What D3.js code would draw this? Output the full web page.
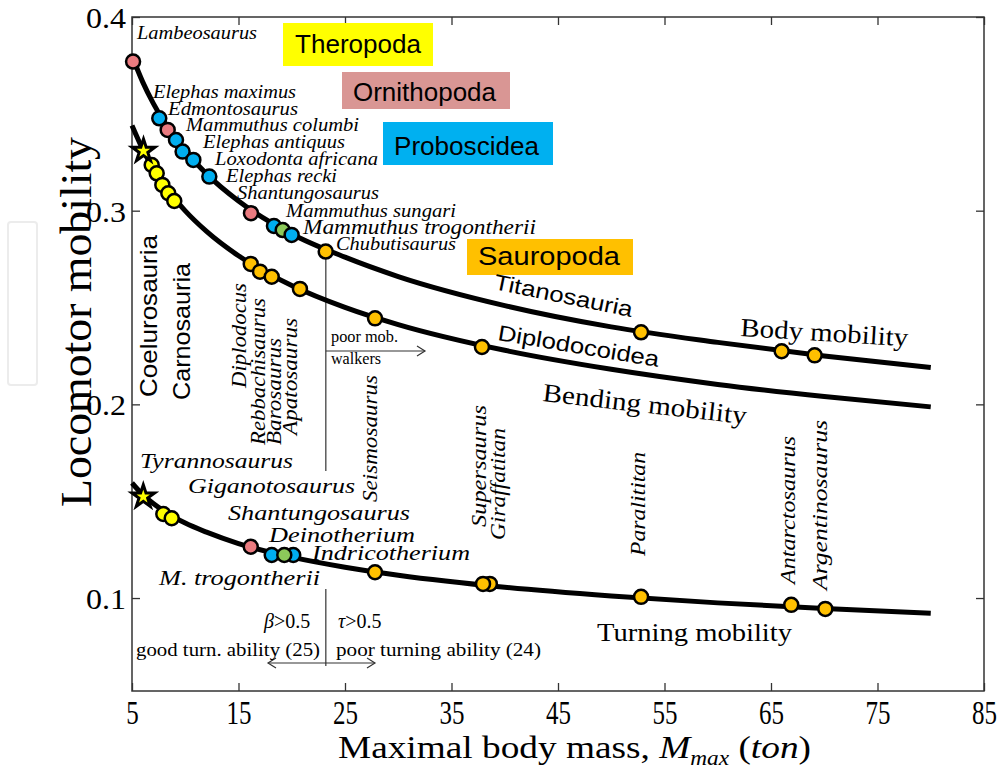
<!DOCTYPE html>
<html><head><meta charset="utf-8">
<script src="https://cdn.jsdelivr.net/npm/d3@7"></script>
<style>body{margin:0;background:#fff} svg{display:block}</style>
</head><body><svg id="chart" width="1005" height="774"></svg>
<script>
// ---------------- data ----------------
const xTicks = [5, 15, 25, 35, 45, 55, 65, 75, 85];
const yTicks = [0.1, 0.2, 0.3, 0.4];
const yTickLabels = ["0.1", "0.2", "0.3", "0.4"];

// fitted curves (mass in ton, mobility)
const curveMass = [5, 6, 7, 8, 10, 12, 15, 20, 25, 30, 40, 50, 60, 70, 80];
const bodyCurve = [0.380, 0.3665, 0.3554, 0.346, 0.331, 0.319, 0.305, 0.288, 0.276, 0.266, 0.251, 0.240, 0.232, 0.225, 0.219];
const bendCurve = [0.344, 0.3318, 0.3218, 0.3134, 0.2999, 0.2893, 0.2767, 0.2614, 0.2501, 0.2412, 0.2279, 0.2181, 0.2103, 0.2040, 0.1987];
const turnCurve = [0.1594, 0.1534, 0.1488, 0.1449, 0.1387, 0.1340, 0.1281, 0.1211, 0.1159, 0.1118, 0.1056, 0.1011, 0.0975, 0.0946, 0.0922];

// body mobility points
const bodyMass  = [5.1, 7.56, 8.35, 9.13, 9.75, 10.76, 12.26, 16.17, 18.33, 19.15, 19.99, 23.19, 52.8, 66.0, 69.1];
const bodyMob   = [0.377, 0.3477, 0.3417, 0.3365, 0.3305, 0.3262, 0.3176, 0.2987, 0.2921, 0.2900, 0.2875, 0.2789, 0.2372, 0.2274, 0.2253];
const bodyGroup = ["Ornithopoda", "Proboscidea", "Ornithopoda", "Proboscidea", "Proboscidea", "Proboscidea", "Proboscidea",
                   "Ornithopoda", "Proboscidea", "Mammuthus", "Proboscidea", "Sauropoda", "Sauropoda", "Sauropoda", "Sauropoda"];

// bending mobility points
const bendMass  = [6.85, 7.32, 7.85, 8.41, 8.97, 16.15, 17.02, 18.12, 20.77, 27.82, 37.86];
const bendMob   = [0.3236, 0.3193, 0.3133, 0.309, 0.305, 0.2725, 0.2685, 0.2659, 0.2596, 0.2444, 0.2296];
const bendGroup = ["Theropoda", "Theropoda", "Theropoda", "Theropoda", "Theropoda",
                   "Sauropoda", "Sauropoda", "Sauropoda", "Sauropoda", "Sauropoda", "Sauropoda"];

// turning mobility points
const turnMass  = [7.94, 8.73, 16.15, 18.12, 20.14, 19.30, 27.82, 38.6, 37.96, 52.8, 66.9, 70.1];
const turnMob   = [0.1434, 0.1412, 0.1265, 0.1222, 0.1222, 0.1222, 0.1133, 0.1073, 0.1073, 0.1006, 0.0965, 0.0944];
const turnGroup = ["Theropoda", "Theropoda", "Ornithopoda", "Proboscidea", "Proboscidea", "Mammuthus",
                   "Sauropoda", "Sauropoda", "Sauropoda", "Sauropoda", "Sauropoda", "Sauropoda"];

// star markers (Tyrannosaurus on bending and turning curves)
const starMass = [6.08, 6.06];
const starMob  = [0.3308, 0.1523];

// thresholds for annotation lines
const walkerMass = 23.2;

const groups = ["Theropoda", "Ornithopoda", "Proboscidea", "Sauropoda", "Mammuthus"];
const groupFill = ["#ffff00", "#ea7b80", "#00aeef", "#ffc000", "#8cc95a"];
const legendNames = ["Theropoda", "Ornithopoda", "Proboscidea", "Sauropoda"];
const legendFill = ["#ffff00", "#d99694", "#00b0f0", "#ffc000"];

// ---------------- layout ----------------
const svg = d3.select("#chart");
const serif = "'Liberation Serif','Times New Roman',serif";
const sans = "'Liberation Sans',Arial,sans-serif";
const x = d3.scaleLinear().domain([5, 85]).range([132, 984]);
const y = d3.scaleLinear().domain([0.052, 0.4]).range([691, 17]);
const color = d3.scaleOrdinal().domain(groups).range(groupFill);

// faint stray box at left
svg.append("rect").attr("x", 8).attr("y", 222).attr("width", 29).attr("height", 163)
  .attr("rx", 3).attr("fill", "none").attr("stroke", "#ececec").attr("stroke-width", 2);

// axes with inward ticks
const axB = svg.append("g").attr("transform", `translate(0,${y.range()[0]})`)
  .call(d3.axisBottom(x).tickValues(xTicks).tickSize(-8).tickSizeOuter(0).tickFormat(d3.format("d")));
const axT = svg.append("g").attr("transform", `translate(0,${y.range()[1]})`)
  .call(d3.axisTop(x).tickValues(xTicks).tickSize(-8).tickSizeOuter(0).tickFormat(""));
const axL = svg.append("g").attr("transform", `translate(${x.range()[0]},0)`)
  .call(d3.axisLeft(y).tickValues(yTicks).tickSize(-8).tickSizeOuter(0).tickFormat((d, i) => yTickLabels[i]));
const axR = svg.append("g").attr("transform", `translate(${x.range()[1]},0)`)
  .call(d3.axisRight(y).tickValues(yTicks).tickSize(-8).tickSizeOuter(0).tickFormat(""));
[axB, axT, axL, axR].forEach(a => {
  a.select(".domain").remove();
  a.selectAll("line").attr("stroke", "#333").attr("stroke-width", 1.3);
});
axB.selectAll("text").attr("font-family", serif).attr("font-size", 34).attr("fill", "#000")
  .attr("dy", null).attr("y", 33)
  .attr("textLength", d => String(d).length * 12.5).attr("lengthAdjust", "spacingAndGlyphs");
axL.selectAll("text").attr("font-family", serif).attr("font-size", 29).attr("fill", "#000")
  .attr("x", -6).attr("dy", "0.36em")
  .attr("textLength", 40).attr("lengthAdjust", "spacingAndGlyphs");

// frame
svg.append("rect").attr("x", x.range()[0]).attr("y", y.range()[1])
  .attr("width", x.range()[1] - x.range()[0]).attr("height", y.range()[0] - y.range()[1])
  .attr("fill", "none").attr("stroke", "#333").attr("stroke-width", 1.5);

// annotation lines (behind curves)
const ann = svg.append("g").attr("stroke", "#333").attr("stroke-width", 1.2).attr("fill", "none");
const xw = x(walkerMass);
ann.append("line").attr("x1", xw).attr("x2", xw).attr("y1", y(bodyMob[11])).attr("y2", 471);
ann.append("line").attr("x1", xw).attr("x2", 425).attr("y1", 351).attr("y2", 351);
ann.append("path").attr("d", "M417,346 L425,351 L417,356");
ann.append("line").attr("x1", xw).attr("x2", xw).attr("y1", 589).attr("y2", 666);
ann.append("line").attr("x1", 268).attr("x2", 375).attr("y1", 663).attr("y2", 663);
ann.append("path").attr("d", "M276,658 L268,663 L276,668");
ann.append("path").attr("d", "M367,658 L375,663 L367,668");

// curves
const line = d3.line().x(d => x(d[0])).y(d => y(d[1])).curve(d3.curveMonotoneX);
[bodyCurve, bendCurve, turnCurve].forEach(c => {
  svg.append("path").datum(curveMass.map((m, i) => [m, c[i]]))
    .attr("d", line).attr("fill", "none").attr("stroke", "#000")
    .attr("stroke-width", 5).attr("stroke-linecap", "butt");
});

// points
function drawPoints(mass, mob, grp) {
  svg.append("g").selectAll("circle").data(mass.map((m, i) => ({ m, v: mob[i], g: grp[i] })))
    .join("circle").attr("cx", d => x(d.m)).attr("cy", d => y(d.v)).attr("r", 7)
    .attr("fill", d => color(d.g)).attr("stroke", "#000").attr("stroke-width", 2.5);
}
drawPoints(bodyMass, bodyMob, bodyGroup);
drawPoints(bendMass, bendMob, bendGroup);
drawPoints(turnMass, turnMob, turnGroup);

svg.append("g").selectAll("path").data(starMass.map((m, i) => [m, starMob[i]])).join("path")
  .attr("transform", d => `translate(${x(d[0])},${y(d[1])})`)
  .attr("d", d3.symbol().type(d3.symbolStar).size(160))
  .attr("fill", "#ffff00").attr("stroke", "#000").attr("stroke-width", 3).attr("stroke-linejoin", "miter");

// legend boxes
const legendBoxes = [
  { x0: 283, y0: 23, x1: 433, y1: 66, tx: 295, ty: 53, len: 126 },
  { x0: 342, y0: 72, x1: 510, y1: 109, tx: 353, ty: 101, len: 143 },
  { x0: 383, y0: 122, x1: 553, y1: 165, tx: 394, ty: 155, len: 145 },
  { x0: 467, y0: 239, x1: 633, y1: 275, tx: 478, ty: 265, len: 142 }
];
legendBoxes.forEach((b, i) => {
  svg.append("rect").attr("x", b.x0).attr("y", b.y0).attr("width", b.x1 - b.x0).attr("height", b.y1 - b.y0)
    .attr("fill", legendFill[i]);
  svg.append("text").attr("x", b.tx).attr("y", b.ty).attr("font-family", sans).attr("font-size", 26)
    .attr("textLength", b.len).attr("lengthAdjust", "spacingAndGlyphs").text(legendNames[i]);
});

// text helper
function label(t) {
  const el = svg.append("text")
    .attr("transform", `translate(${t.x},${t.y}) rotate(${t.rot || 0})`)
    .attr("font-family", t.sans ? sans : serif)
    .attr("font-style", t.it ? "italic" : "normal")
    .attr("font-size", t.size).attr("fill", "#000").text(t.text);
  if (t.len) el.attr("textLength", t.len).attr("lengthAdjust", "spacingAndGlyphs");
  return el;
}

const speciesLabels = [
  { text: "Lambeosaurus", x: 137, y: 39, size: 18, len: 120 },
  { text: "Elephas maximus", x: 153, y: 98, size: 18, len: 143 },
  { text: "Edmontosaurus", x: 168, y: 115, size: 18, len: 130 },
  { text: "Mammuthus columbi", x: 186, y: 131, size: 18, len: 173 },
  { text: "Elephas antiquus", x: 203, y: 148, size: 18, len: 142 },
  { text: "Loxodonta africana", x: 215, y: 165, size: 18, len: 163 },
  { text: "Elephas recki", x: 226, y: 182, size: 18, len: 111 },
  { text: "Shantungosaurus", x: 237, y: 199, size: 18, len: 142 },
  { text: "Mammuthus sungari", x: 286, y: 217, size: 18, len: 170 },
  { text: "Mammuthus trogontherii", x: 303, y: 234, size: 22, len: 233 },
  { text: "Chubutisaurus", x: 336, y: 250, size: 18, len: 120 },
  { text: "Tyrannosaurus", x: 140, y: 468, size: 22, len: 153 },
  { text: "Giganotosaurus", x: 188, y: 493, size: 22, len: 167 },
  { text: "Shantungosaurus", x: 228, y: 520, size: 22, len: 182 },
  { text: "Deinotherium", x: 269, y: 542, size: 22, len: 146 },
  { text: "Indricotherium", x: 312, y: 560, size: 22, len: 158 },
  { text: "M. trogontherii", x: 159, y: 585, size: 22, len: 161 },
  { text: "Diplodocus", x: 246, y: 388, size: 22, len: 105, rot: -90 },
  { text: "Rebbachisaurus", x: 265, y: 445, size: 22, len: 147, rot: -90 },
  { text: "Barosaurus", x: 281, y: 445, size: 22, len: 107, rot: -90 },
  { text: "Apatosaurus", x: 297, y: 435, size: 22, len: 117, rot: -90 },
  { text: "Seismosaurus", x: 377, y: 502, size: 22, len: 127, rot: -90 },
  { text: "Supersaurus", x: 486, y: 527, size: 20, len: 122, rot: -90 },
  { text: "Giraffatitan", x: 505, y: 540, size: 20, len: 112, rot: -90 },
  { text: "Paralititan", x: 645, y: 556, size: 20, len: 104, rot: -90 },
  { text: "Antarctosaurus", x: 795, y: 584, size: 20, len: 148, rot: -90 },
  { text: "Argentinosaurus", x: 827, y: 590, size: 20, len: 170, rot: -90 }
];
speciesLabels.forEach(t => label(Object.assign({ it: true }, t)));

const cladeLabels = [
  { text: "Coelurosauria", x: 157, y: 397, size: 24, len: 162, rot: -90, sans: true },
  { text: "Carnosauria", x: 190, y: 400, size: 24, len: 137, rot: -90, sans: true },
  { text: "Titanosauria", x: 493, y: 289, size: 22, len: 141, rot: 11.5, sans: true },
  { text: "Diplodocoidea", x: 497, y: 340, size: 22, len: 163, rot: 9.5, sans: true },
  { text: "Body mobility", x: 740, y: 336, size: 26, len: 168, rot: 3.5 },
  { text: "Bending mobility", x: 542, y: 401, size: 26, len: 205, rot: 6.5 },
  { text: "Turning mobility", x: 597, y: 641, size: 26, len: 195 },
  { text: "poor mob.", x: 331, y: 342, size: 17, len: 67 },
  { text: "walkers", x: 331, y: 364, size: 17, len: 50 },
  { text: "good turn. ability (25)", x: 136, y: 656, size: 18, len: 184 },
  { text: "poor turning ability (24)", x: 336, y: 656, size: 18, len: 205 }
];
cladeLabels.forEach(label);

// beta / tau conditions
function cond(sym, xx) {
  const t = svg.append("text").attr("x", xx).attr("y", 628).attr("font-family", serif).attr("font-size", 20);
  t.append("tspan").attr("font-style", "italic").text(sym);
  t.append("tspan").text(">0.5");
}
cond("β", 264);
cond("τ", 338);

// axis titles
label({ text: "Locomotor mobility", x: 91, y: 507, size: 44, len: 370, rot: -90 });

const xt = svg.append("text").attr("x", 0).attr("y", 0).attr("font-family", serif).attr("font-size", 32);
xt.append("tspan").text("Maximal body mass, ");
xt.append("tspan").attr("font-style", "italic").text("M");
xt.append("tspan").attr("font-style", "italic").attr("font-size", 20).attr("dy", 7).text("max");
xt.append("tspan").attr("dy", -7).text(" (");
xt.append("tspan").attr("font-style", "italic").text("ton");
xt.append("tspan").text(")");
const w = xt.node().getComputedTextLength();
xt.attr("transform", `translate(338,758) scale(${473 / w},1)`);
</script></body></html>
